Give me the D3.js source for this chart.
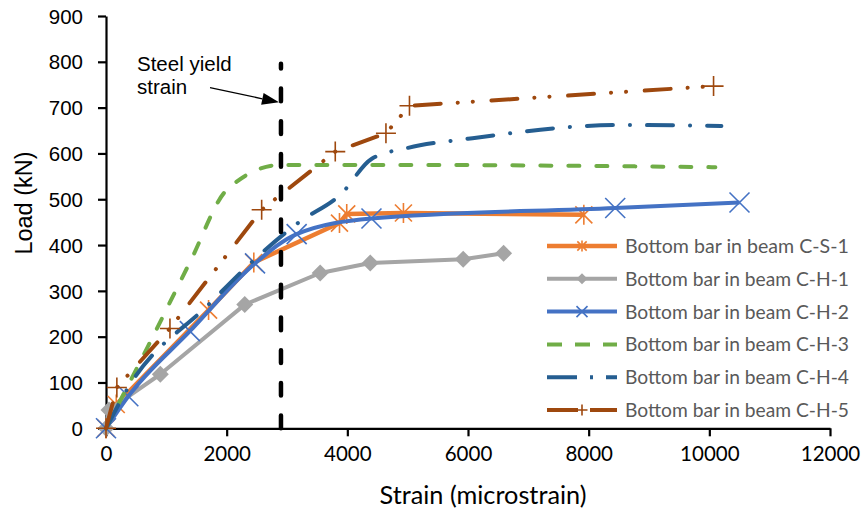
<!DOCTYPE html>
<meta charset="utf-8">
<style>
body { margin: 0; background: #fff; }
svg { display: block; }
.ytick text, .ylab { font-family: "Liberation Sans", Arial, sans-serif; }
.xtick text, .xlab, .legend text { font-family: Lato, "Open Sans", sans-serif; }
</style>
<svg width="864" height="515"></svg>
<script src="https://cdn.jsdelivr.net/npm/d3@7"></script>
<script>

// series (strain in microstrain, load in kN)
var strainCS1 = [0, 170, 1700, 2450, 3870, 3990, 4930, 7920];
var loadCS1   = [0, 52, 258, 362, 448, 468, 470, 466];
var strainCH1 = [0, 50, 900, 2300, 3550, 4380, 5920, 6590];
var loadCH1   = [0, 40, 118, 270, 339, 361, 369, 382];
var strainCH2 = [0, 370, 1390, 2470, 3160, 4400, 8440, 10500];
var loadCH2   = [0, 70, 212, 360, 424, 458, 481, 493];
var strainCH3 = [0, 700, 1400, 2000, 2900, 4500, 10100];
var loadCH3   = [0, 180, 365, 520, 575, 575, 570];
var strainCH4 = [0, 350, 1700, 2600, 3200, 3900, 4400, 5000, 6000, 8500, 10200];
var loadCH4   = [0, 85, 270, 385, 450, 512, 588, 612, 632, 662, 660];
var strainCH5 = [0, 180, 1060, 2580, 3800, 4640, 5030, 10070];
var loadCH5   = [0, 89, 218, 477, 604, 644, 704, 747];

var names = ["Bottom bar in beam C-S-1", "Bottom bar in beam C-H-1", "Bottom bar in beam C-H-2",
             "Bottom bar in beam C-H-3", "Bottom bar in beam C-H-4", "Bottom bar in beam C-H-5"];
var xTicks = [0, 2000, 4000, 6000, 8000, 10000, 12000];
var yTicks = [0, 100, 200, 300, 400, 500, 600, 700, 800, 900];
var yieldStrain = 2900;

function pairs(a, b) { return a.map(function(v, i) { return [v, b[i]]; }); }

var series = [
  { name: names[0], pts: pairs(strainCS1, loadCS1), color: "#ED7D31", w: 4.5, dash: null, smooth: false, marker: "star" },
  { name: names[1], pts: pairs(strainCH1, loadCH1), color: "#A5A5A5", w: 4, dash: null, smooth: false, marker: "diamond" },
  { name: names[2], pts: pairs(strainCH2, loadCH2), color: "#4472C4", w: 4, dash: null, smooth: true, marker: "x" },
  { name: names[3], pts: pairs(strainCH3, loadCH3), color: "#70AD47", w: 4, dash: "11,17", smooth: true, marker: null,
    legDash: "15,13" },
  { name: names[4], pts: pairs(strainCH4, loadCH4), color: "#255E91", w: 4, dash: "26,17,0.1,17", smooth: true, marker: null,
    legDash: "30,13,3,13,20" },
  { name: names[5], pts: pairs(strainCH5, loadCH5), color: "#9E480E", w: 4, dash: "26,17,0.1,15,0.1,18.6", smooth: false, marker: "plus",
    legDash: "31,12,30" }
];

var svg = d3.select("svg");

var x = d3.scaleLinear().domain([0, 12000]).range([106, 830]);
var y = d3.scaleLinear().domain([0, 900]).range([428.3, 16]);

// axes
var gx = svg.append("g").attr("class", "xtick")
    .attr("transform", "translate(0," + y(0) + ")")
    .call(d3.axisBottom(x).tickValues(xTicks).tickFormat(d3.format("d"))
      .tickSize(8).tickSizeOuter(0).tickPadding(9));
var gy = svg.append("g").attr("class", "ytick")
    .attr("transform", "translate(" + x(0) + ",0)")
    .call(d3.axisLeft(y).tickValues(yTicks).tickSize(8).tickSizeOuter(0).tickPadding(15));

[gx, gy].forEach(function(g) {
  g.select(".domain").attr("stroke", "#000").attr("stroke-width", 2.2);
  g.selectAll(".tick line").attr("stroke", "#000").attr("stroke-width", 2.2);
  g.selectAll(".tick text").attr("fill", "#000");
});
gx.selectAll(".tick text").style("font-size", "20.5px").attr("dy", "0.75em");
gy.selectAll(".tick text").style("font-size", "20.5px").attr("dy", "0.35em");

// fit text to a measured width
function fit(sel, target) {
  var w = sel.node().getComputedTextLength();
  var fs = parseFloat(sel.style("font-size"));
  sel.style("font-size", (fs * target / w) + "px");
}

var xl = svg.append("text").attr("class", "xlab")
    .attr("x", 483).attr("y", 504).attr("text-anchor", "middle")
    .style("font-size", "24px").attr("fill", "#000")
    .text("Strain (microstrain)");
fit(xl, 207);

svg.append("text").attr("class", "ylab")
    .attr("transform", "translate(31.5,203) rotate(-90)")
    .attr("text-anchor", "middle")
    .style("font-size", "23.5px").attr("fill", "#000")
    .text("Load (kN)");

// series lines
var lineStraight = d3.line().x(function(d) { return x(d[0]); }).y(function(d) { return y(d[1]); });
var lineSmooth = d3.line().curve(d3.curveMonotoneX)
    .x(function(d) { return x(d[0]); }).y(function(d) { return y(d[1]); });

function marker(g, type, px, py, r, color) {
  if (type === "diamond") {
    g.append("path").attr("d", "M" + px + "," + (py - r) + "L" + (px + r) + "," + py +
        "L" + px + "," + (py + r) + "L" + (px - r) + "," + py + "Z").attr("fill", color);
    return;
  }
  var d = "";
  if (type === "x" || type === "star") {
    var k = type === "star" ? r * 0.85 : r;
    d += "M" + (px - k) + "," + (py - k) + "L" + (px + k) + "," + (py + k) +
         "M" + (px - k) + "," + (py + k) + "L" + (px + k) + "," + (py - k);
  }
  if (type === "star" || type === "plus") d += "M" + px + "," + (py - r) + "L" + px + "," + (py + r);
  if (type === "plus") d += "M" + (px - r) + "," + py + "L" + (px + r) + "," + py;
  g.append("path").attr("d", d).attr("stroke", color).attr("stroke-width", 1.6).attr("fill", "none");
}

series.forEach(function(s) {
  var g = svg.append("g");
  g.append("path").datum(s.pts)
    .attr("d", s.smooth ? lineSmooth : lineStraight)
    .attr("fill", "none")
    .attr("stroke", s.color)
    .attr("stroke-width", s.w)
    .attr("stroke-linecap", s.dash ? "round" : "butt")
    .attr("stroke-linejoin", "round")
    .attr("stroke-dasharray", s.dash);
  if (s.marker) {
    s.pts.forEach(function(p) {
      marker(g, s.marker, x(p[0]), y(p[1]), s.marker === "diamond" ? 8.5 : 10, s.color);
    });
  }
});

// yield strain line + note
svg.append("line")
    .attr("x1", x(yieldStrain)).attr("x2", x(yieldStrain))
    .attr("y1", y(0)).attr("y2", y(800) + 2)
    .attr("stroke", "#000").attr("stroke-width", 4.5)
    .attr("stroke-linecap", "round").attr("stroke-dasharray", "12.7,20");

var note = svg.append("text").attr("class", "ylab")
    .attr("x", 137).attr("y", 70.7).style("font-size", "20.5px").attr("fill", "#000");
note.append("tspan").attr("x", 137).text("Steel yield");
note.append("tspan").attr("x", 137).attr("dy", 23.6).text("strain");

var ax0 = 210, ay0 = 87.7, ax1 = 279, ay1 = 102.3;
var ang = Math.atan2(ay1 - ay0, ax1 - ax0);
var hl = 17, hw = 6;
var bx = ax1 - hl * Math.cos(ang), by = ay1 - hl * Math.sin(ang);
svg.append("line").attr("x1", ax0).attr("y1", ay0).attr("x2", bx).attr("y2", by)
    .attr("stroke", "#000").attr("stroke-width", 1.3);
svg.append("path")
    .attr("d", "M" + ax1 + "," + ay1 +
        "L" + (bx + hw * Math.sin(ang)) + "," + (by - hw * Math.cos(ang)) +
        "L" + (bx - hw * Math.sin(ang)) + "," + (by + hw * Math.cos(ang)) + "Z")
    .attr("fill", "#000");

// legend
var legendY = d3.scaleLinear().domain([0, 5]).range([246, 410]);
var leg = svg.append("g").attr("class", "legend");
series.forEach(function(s, i) {
  var ly = legendY(i);
  var g = leg.append("g");
  g.append("rect").attr("x", 540).attr("y", ly - 15).attr("width", 320).attr("height", 30).attr("fill", "#fff");
  g.append("line").attr("x1", 547).attr("x2", 617).attr("y1", ly).attr("y2", ly)
    .attr("stroke", s.color).attr("stroke-width", s.w)
    .attr("stroke-dasharray", s.legDash || null);
  if (s.marker) marker(g, s.marker, 582, ly, 5.5, s.color);
  var t = g.append("text").attr("x", 625).attr("y", ly).attr("dy", "0.36em")
    .style("font-size", "21px").attr("fill", "#595959").text(s.name);
  fit(t, 224);
});

</script>
